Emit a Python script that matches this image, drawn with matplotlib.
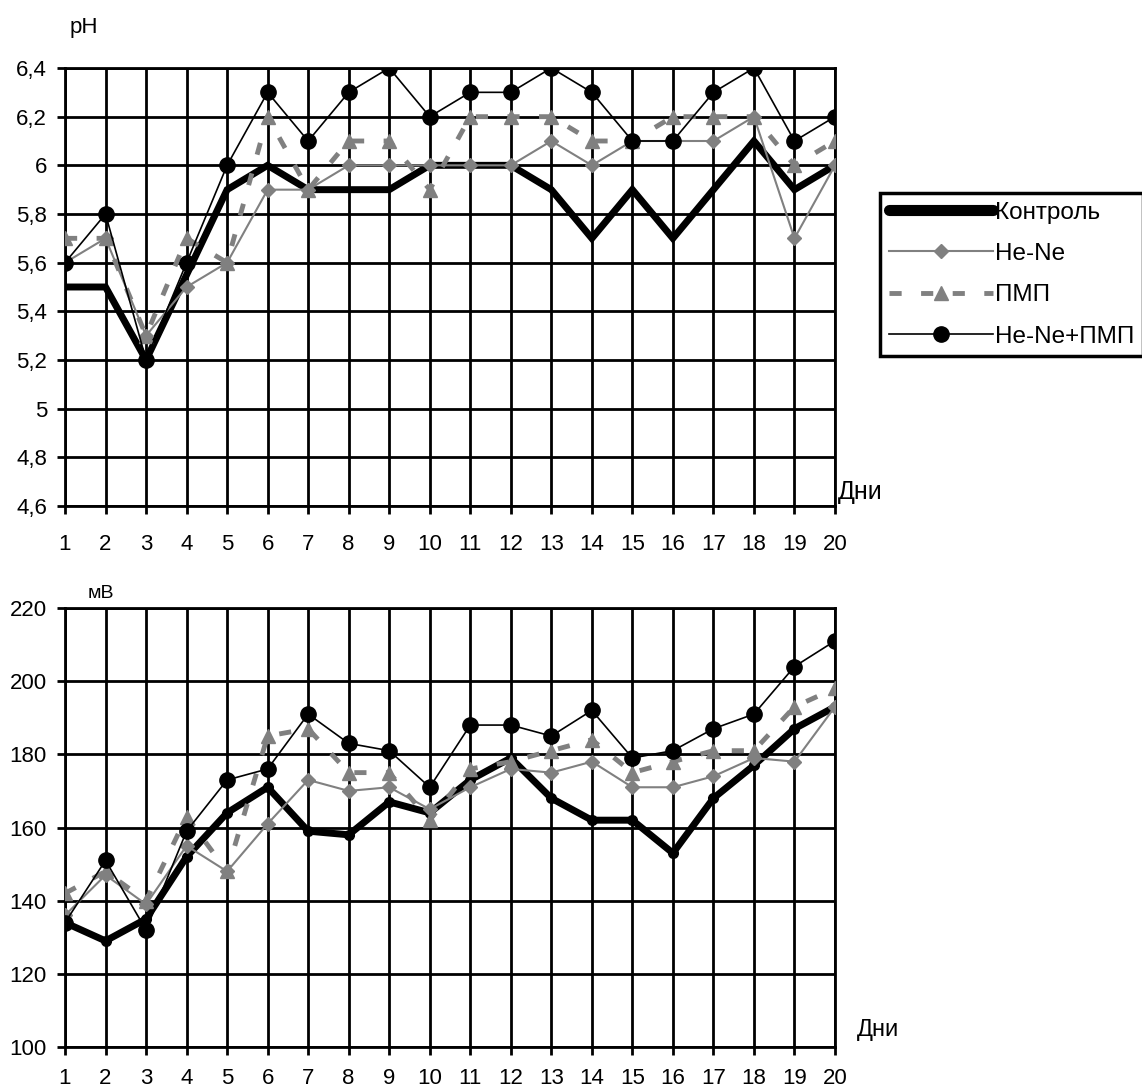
import numpy as np
import matplotlib
matplotlib.use("Agg")
import matplotlib.pyplot as plt
from matplotlib.lines import Line2D

plt.rcParams["font.family"] = ["Liberation Sans", "DejaVu Sans"]

# ── Данные ──────────────────────────────────────────────────────────────
days = list(range(1, 21))

ph_control = [5.5, 5.5, 5.2, 5.55, 5.9, 6.0, 5.9, 5.9, 5.9, 6.0,
              6.0, 6.0, 5.9, 5.7, 5.9, 5.7, 5.9, 6.1, 5.9, 6.0]
ph_hene = [5.6, 5.7, 5.3, 5.5, 5.6, 5.9, 5.9, 6.0, 6.0, 6.0,
           6.0, 6.0, 6.1, 6.0, 6.1, 6.1, 6.1, 6.2, 5.7, 6.0]
ph_pmp = [5.7, 5.7, 5.3, 5.7, 5.6, 6.2, 5.9, 6.1, 6.1, 5.9,
          6.2, 6.2, 6.2, 6.1, 6.1, 6.2, 6.2, 6.2, 6.0, 6.1]
ph_both = [5.6, 5.8, 5.2, 5.6, 6.0, 6.3, 6.1, 6.3, 6.4, 6.2,
           6.3, 6.3, 6.4, 6.3, 6.1, 6.1, 6.3, 6.4, 6.1, 6.2]

mv_control = [134, 129, 135, 152, 164, 171, 159, 158, 167, 164,
              173, 179, 168, 162, 162, 153, 168, 177, 187, 193]
mv_hene = [136, 147, 139, 155, 148, 161, 173, 170, 171, 165,
           171, 176, 175, 178, 171, 171, 174, 179, 178, 193]
mv_pmp = [142, 148, 140, 163, 148, 185, 187, 175, 175, 162,
          176, 178, 181, 184, 175, 178, 181, 181, 193, 198]
mv_both = [134, 151, 132, 159, 173, 176, 191, 183, 181, 171,
           188, 188, 185, 192, 179, 181, 187, 191, 204, 211]

ph_ticks = [4.6, 4.8, 5.0, 5.2, 5.4, 5.6, 5.8, 6.0, 6.2, 6.4]
ph_labels = ["4,6", "4,8", "5", "5,2", "5,4", "5,6", "5,8", "6", "6,2", "6,4"]
mv_ticks = [100, 120, 140, 160, 180, 200, 220]

labels = ["Контроль", "He-Ne", "ПМП", "He-Ne+ПМП"]

GRAY = "#808080"
FS = 16

fig = plt.figure(figsize=(11.42, 10.88), dpi=100, facecolor="white")
ax1 = fig.add_axes([65 / 1142, 1 - 506 / 1088, 770 / 1142, 438 / 1088])
ax2 = fig.add_axes([65 / 1142, 1 - 1047 / 1088, 770 / 1142, 439 / 1088])


def draw(ax, c, h, p, b, ctrl_marker, xpad):
    ax.plot(days, c, color="black", lw=5, marker=ctrl_marker, ms=7,
            solid_joinstyle="miter", zorder=3)
    ax.plot(days, h, color=GRAY, lw=1.5, marker="D", ms=7, zorder=4)
    ax.plot(days, p, color=GRAY, lw=3.5, ls=(0, (2.5, 4)), marker="^", ms=10,
            zorder=4)
    ax.plot(days, b, color="black", lw=1.2, marker="o", ms=11, zorder=5)
    ax.set_xlim(1, 20)
    ax.set_xticks(days)
    ax.grid(True, color="black", lw=2)
    ax.set_axisbelow(True)
    for s in ax.spines.values():
        s.set_linewidth(2)
    ax.tick_params(axis="both", length=6, width=2, labelsize=FS, pad=7)
    ax.tick_params(axis="x", pad=xpad)


draw(ax1, ph_control, ph_hene, ph_pmp, ph_both, None, 14)
ax1.set_ylim(4.6, 6.4)
ax1.set_yticks(ph_ticks)
ax1.set_yticklabels(ph_labels)

draw(ax2, mv_control, mv_hene, mv_pmp, mv_both, "o", 9)
ax2.set_ylim(100, 220)
ax2.set_yticks(mv_ticks)

fig.text(70 / 1142, 1 - 28 / 1088, "pH", fontsize=16, va="center")
fig.text(88 / 1142, 1 - 593 / 1088, "мВ", fontsize=14, va="center")
fig.text(838 / 1142, 1 - 492 / 1088, "Дни", fontsize=18, va="center")
fig.text(857 / 1142, 1 - 1030 / 1088, "Дни", fontsize=17, va="center")

# Легенда
handles = [
    Line2D([], [], color="black", lw=8, solid_capstyle="round"),
    Line2D([], [], color=GRAY, lw=1.5, marker="D", ms=7),
    Line2D([], [], color=GRAY, lw=3.5, ls=(0, (2.5, 4)), marker="^", ms=10),
    Line2D([], [], color="black", lw=1.2, marker="o", ms=11),
]
leg = fig.legend(handles, labels, loc="upper left",
                 bbox_to_anchor=(880 / 1142, 1 - 193 / 1088),
                 fontsize=17.5, handlelength=4.3, handletextpad=0.1,
                 labelspacing=0.8, borderpad=0.35, borderaxespad=0,
                 fancybox=False, edgecolor="black", framealpha=1)
leg.get_frame().set_linewidth(2.5)

fig.savefig("out.png", dpi=100, facecolor="white")
